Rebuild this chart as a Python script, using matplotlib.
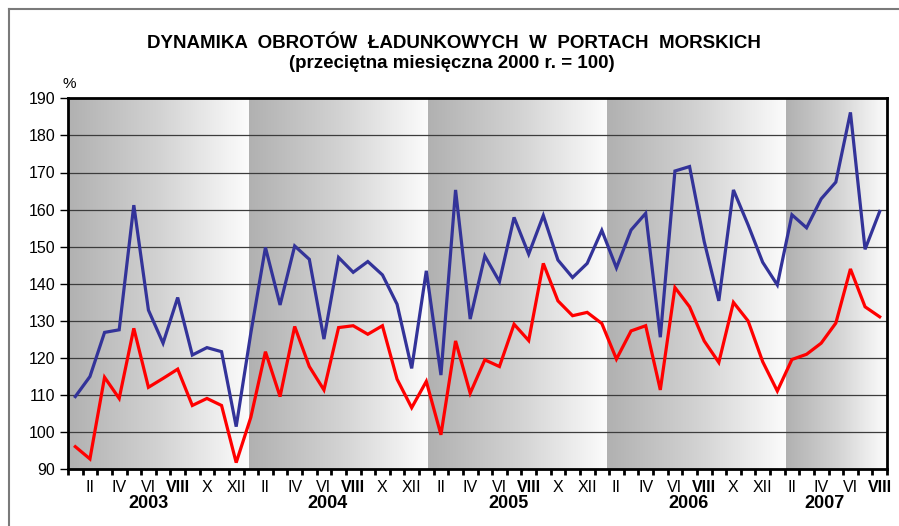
import numpy as np
import matplotlib
matplotlib.use('Agg')
import matplotlib.pyplot as plt
from matplotlib.lines import Line2D
from matplotlib.colors import LinearSegmentedColormap
import matplotlib.transforms as mtransforms

plt.rcParams['font.family'] = ['Liberation Sans', 'DejaVu Sans']

# ---------------- data ----------------
years = ['2003', '2004', '2005', '2006', '2007']
months_per_year = [12, 12, 12, 12, 8]
roman = ['I', 'II', 'III', 'IV', 'V', 'VI', 'VII', 'VIII', 'IX', 'X', 'XI', 'XII']

series_blue = [109.6, 115.0, 126.9, 127.6, 161.2, 132.9, 124.0, 136.3, 120.8, 122.8, 121.7, 101.5,
               126.7, 149.8, 134.3, 150.2, 146.6, 125.1, 147.1, 143.1, 146.0, 142.4, 134.5, 117.2,
               143.5, 115.4, 165.3, 130.5, 147.5, 140.6, 157.9, 148.0, 158.4, 146.4, 141.7, 145.5,
               154.4, 144.3, 154.5, 159.0, 125.6, 170.4, 171.6, 151.4, 135.4, 165.3, 155.9, 145.8,
               139.7, 158.6, 155.1, 162.9, 167.4, 186.2, 149.3, 159.5]
series_red = [96.1, 92.8, 114.8, 109.1, 128.0, 112.1, 114.5, 117.0, 107.2, 109.1, 107.2, 91.8,
              104.0, 121.7, 109.6, 128.5, 117.7, 111.4, 128.2, 128.7, 126.4, 128.7, 114.3, 106.6,
              113.7, 99.3, 124.6, 110.5, 119.5, 117.7, 129.1, 124.7, 145.5, 135.4, 131.4, 132.3,
              129.3, 119.7, 127.3, 128.7, 111.4, 139.0, 133.8, 124.6, 118.8, 135.0, 130.0, 119.0,
              111.1, 119.6, 121.0, 124.0, 129.4, 144.0, 133.8, 131.1]

y_ticks = list(range(90, 191, 10))

# ---------------- layout ----------------
W, H = 899, 526
fig = plt.figure(figsize=(W / 100, H / 100), dpi=100)
fig.patch.set_facecolor('white')

ax_l, ax_r, ax_t, ax_b = 68, 887, 98.3, 469.3
ax = fig.add_axes([ax_l / W, 1 - ax_b / H, (ax_r - ax_l) / W, (ax_b - ax_t) / H])

n = len(series_blue)
x = np.arange(n)

# gradient background bands (one per year)
band_edges = [-0.5, 11.85, 24.1, 36.35, 48.6, n - 0.5]
cmap = LinearSegmentedColormap.from_list('g', ['#b1b1b1', '#d2d2d2', '#fcfcfc'])
grad = np.linspace(0, 1, 256).reshape(1, -1)
for b0, b1 in zip(band_edges[:-1], band_edges[1:]):
    ax.imshow(grad, extent=[b0, b1, 90, 190], cmap=cmap, aspect='auto',
              interpolation='bilinear', zorder=0)

ax.set_xlim(-0.5, n - 0.5)
ax.set_ylim(90, 190)

# gridlines
for yv in y_ticks[1:-1]:
    ax.axhline(yv, color='#3c3c3c', lw=0.9, zorder=1)

ax.plot(x, series_blue, color='#333399', lw=2.3, zorder=3, solid_joinstyle='miter')
ax.plot(x, series_red, color='#ff0000', lw=2.3, zorder=3, solid_joinstyle='miter')

for s in ax.spines.values():
    s.set_linewidth(2)
    s.set_color('black')

# y axis
ax.set_yticks(y_ticks)
ax.set_yticklabels([str(v) for v in y_ticks], fontsize=11.5)
ax.tick_params(axis='y', direction='out', length=6, width=1, pad=3)

# x axis: labels at month centres, tick marks at boundaries
labels = []
for yr, cnt in zip(years, months_per_year):
    for m in range(cnt):
        labels.append(roman[m] if (m + 1) % 2 == 0 else '')
ax.set_xticks(x)
ax.set_xticklabels(labels, fontsize=11.5)
ax.tick_params(axis='x', which='major', length=0, pad=7.5)
for lbl in ax.get_xticklabels():
    if lbl.get_text() == 'VIII':
        lbl.set_fontweight('bold')
ax.set_xticks(np.arange(-0.5, n, 1), minor=True)
ax.tick_params(axis='x', which='minor', direction='out', length=4, width=2)

# year labels
year_label_pos = [5.0, 17.25, 29.6, 41.9, 51.2]
trans = mtransforms.blended_transform_factory(ax.transData, ax.transAxes)
for yr, px in zip(years, year_label_pos):
    ax.text(px, -0.093, yr, transform=trans, ha='center', va='center',
            fontsize=13, fontweight='bold')

# titles
title_font = ['Liberation Sans Narrow', 'Liberation Sans', 'DejaVu Sans']
fig.text(453.5 / W, 1 - 43.5 / H, 'DYNAMIKA  OBROTÓW  ŁADUNKOWYCH  W  PORTACH  MORSKICH',
         ha='center', va='center', fontsize=13.5, fontweight='bold', family=title_font)
fig.text(452 / W, 1 - 63 / H, '(przeciętna miesięczna 2000 r. = 100)',
         ha='center', va='center', fontsize=13.5, fontweight='bold', family=title_font)
fig.text(69 / W, 1 - 84 / H, '%', ha='center', va='center', fontsize=11)

# outer frame
fig.add_artist(Line2D([9 / W, 1], [1 - 9 / H, 1 - 9 / H], color='#7a7a7a', lw=1.5,
                      transform=fig.transFigure))
fig.add_artist(Line2D([9 / W, 9 / W], [1 - 9 / H, 0], color='#7a7a7a', lw=1.5,
                      transform=fig.transFigure))

fig.savefig('out.png', dpi=100)
